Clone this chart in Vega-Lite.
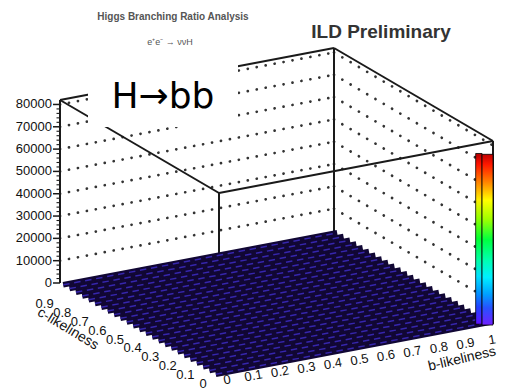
{
  "$schema": "https://vega.github.io/schema/vega-lite/v6.json",
  "width": 507,
  "height": 391,
  "padding": 0,
  "autosize": {"type": "none"},
  "background": "white",
  "config": {"view": {"stroke": null}, "text": {"font": "Liberation Sans"}},
  "datasets": {
    "zt": [{"z":0},{"z":10000},{"z":20000},{"z":30000},{"z":40000},{"z":50000},{"z":60000},{"z":70000},{"z":80000}],
    "zminor": [{"z":2000},{"z":4000},{"z":6000},{"z":8000},{"z":12000},{"z":14000},{"z":16000},{"z":18000},{"z":22000},{"z":24000},{"z":26000},{"z":28000},{"z":32000},{"z":34000},{"z":36000},{"z":38000},{"z":42000},{"z":44000},{"z":46000},{"z":48000},{"z":52000},{"z":54000},{"z":56000},{"z":58000},{"z":62000},{"z":64000},{"z":66000},{"z":68000},{"z":72000},{"z":74000},{"z":76000},{"z":78000}],
    "frame": [
      {"b1":0,"c1":1,"z1":0,"b2":0,"c2":1,"z2":82000},
      {"b1":0,"c1":1,"z1":82000,"b2":1,"c2":1,"z2":82000},
      {"b1":1,"c1":1,"z1":82000,"b2":1,"c2":0,"z2":82000},
      {"b1":0,"c1":1,"z1":82000,"b2":0,"c2":0,"z2":82000},
      {"b1":0,"c1":0,"z1":82000,"b2":1,"c2":0,"z2":82000},
      {"b1":1,"c1":1,"z1":0,"b2":1,"c2":1,"z2":82000},
      {"b1":0,"c1":0,"z1":0,"b2":0,"c2":0,"z2":82000},
      {"b1":1,"c1":0,"z1":0,"b2":1,"c2":0,"z2":82000}
    ],
    "floor": [{"c_lo":0,"n":0},{"c_lo":0.04,"n":0},{"c_lo":0.08,"n":0},{"c_lo":0.12,"n":0},{"c_lo":0.16,"n":0},{"c_lo":0.2,"n":0},{"c_lo":0.24,"n":0},{"c_lo":0.28,"n":0},{"c_lo":0.32,"n":0},{"c_lo":0.36,"n":0},{"c_lo":0.4,"n":0},{"c_lo":0.44,"n":0},{"c_lo":0.48,"n":0},{"c_lo":0.52,"n":0},{"c_lo":0.56,"n":0},{"c_lo":0.6,"n":0},{"c_lo":0.64,"n":0},{"c_lo":0.68,"n":0},{"c_lo":0.72,"n":0},{"c_lo":0.76,"n":0},{"c_lo":0.8,"n":0},{"c_lo":0.84,"n":0},{"c_lo":0.88,"n":0},{"c_lo":0.92,"n":0},{"c_lo":0.96,"n":0}],
    "peak": [{"b_lo":0.96,"c_lo":0,"w":0.04,"n":76500}],
    "bt": [{"b":0},{"b":0.1},{"b":0.2},{"b":0.3},{"b":0.4},{"b":0.5},{"b":0.6},{"b":0.7},{"b":0.8},{"b":0.9},{"b":1}],
    "ct": [{"c":0},{"c":0.1},{"c":0.2},{"c":0.3},{"c":0.4},{"c":0.5},{"c":0.6},{"c":0.7},{"c":0.8},{"c":0.9}]
  },
  "layer": [
    {
      "data": {"name": "zt"},
      "transform": [
        {"filter": "datum.z > 0"},
        {"calculate": "219+274*0-159*1", "as": "px"},
        {"calculate": "376-52*0-93*1-183*datum.z/82000", "as": "py"},
        {"calculate": "219+274*1-159*1", "as": "px2"},
        {"calculate": "376-52*1-93*1-183*datum.z/82000", "as": "py2"}
      ],
      "mark": {"type": "rule", "color": "#333", "strokeWidth": 2.7, "strokeDash": [0.1, 9], "strokeCap": "round"},
      "encoding": {
        "x": {"field": "px", "type": "quantitative", "scale": {"domain": [0, 507], "nice": false, "zero": false}, "axis": null},
        "y": {"field": "py", "type": "quantitative", "scale": {"domain": [0, 391], "nice": false, "zero": false, "reverse": true}, "axis": null},
        "x2": {"field": "px2"},
        "y2": {"field": "py2"}
      }
    },
    {
      "data": {"name": "zt"},
      "transform": [
        {"filter": "datum.z > 0"},
        {"calculate": "219+274*1-159*1", "as": "px"},
        {"calculate": "376-52*1-93*1-183*datum.z/82000", "as": "py"},
        {"calculate": "219+274*1-159*0", "as": "px2"},
        {"calculate": "376-52*1-93*0-183*datum.z/82000", "as": "py2"}
      ],
      "mark": {"type": "rule", "color": "#333", "strokeWidth": 2.7, "strokeDash": [0.1, 9.5], "strokeCap": "round"},
      "encoding": {
        "x": {"field": "px", "type": "quantitative", "scale": {"domain": [0, 507], "nice": false, "zero": false}, "axis": null},
        "y": {"field": "py", "type": "quantitative", "scale": {"domain": [0, 391], "nice": false, "zero": false, "reverse": true}, "axis": null},
        "x2": {"field": "px2"},
        "y2": {"field": "py2"}
      }
    },
    {
      "data": {"name": "frame"},
      "transform": [
        {"calculate": "219+274*datum.b1-159*datum.c1", "as": "px"},
        {"calculate": "376-52*datum.b1-93*datum.c1-183*datum.z1/82000", "as": "py"},
        {"calculate": "219+274*datum.b2-159*datum.c2", "as": "px2"},
        {"calculate": "376-52*datum.b2-93*datum.c2-183*datum.z2/82000", "as": "py2"}
      ],
      "mark": {"type": "rule", "color": "#1a1a1a", "strokeWidth": 2},
      "encoding": {
        "x": {"field": "px", "type": "quantitative", "scale": {"domain": [0, 507], "nice": false, "zero": false}, "axis": null},
        "y": {"field": "py", "type": "quantitative", "scale": {"domain": [0, 391], "nice": false, "zero": false, "reverse": true}, "axis": null},
        "x2": {"field": "px2"},
        "y2": {"field": "py2"}
      }
    },
    {
      "data": {"name": "zt"},
      "transform": [
        {"calculate": "60-7", "as": "px"},
        {"calculate": "60", "as": "px2"},
        {"calculate": "283-183*datum.z/82000", "as": "py"}
      ],
      "mark": {"type": "rule", "color": "#1a1a1a", "strokeWidth": 1.5},
      "encoding": {
        "x": {"field": "px", "type": "quantitative", "scale": {"domain": [0, 507], "nice": false, "zero": false}, "axis": null},
        "y": {"field": "py", "type": "quantitative", "scale": {"domain": [0, 391], "nice": false, "zero": false, "reverse": true}, "axis": null},
        "x2": {"field": "px2"}
      }
    },
    {
      "data": {"name": "zminor"},
      "transform": [
        {"calculate": "60-3.5", "as": "px"},
        {"calculate": "60", "as": "px2"},
        {"calculate": "283-183*datum.z/82000", "as": "py"}
      ],
      "mark": {"type": "rule", "color": "#1a1a1a", "strokeWidth": 1.1},
      "encoding": {
        "x": {"field": "px", "type": "quantitative", "scale": {"domain": [0, 507], "nice": false, "zero": false}, "axis": null},
        "y": {"field": "py", "type": "quantitative", "scale": {"domain": [0, 391], "nice": false, "zero": false, "reverse": true}, "axis": null},
        "x2": {"field": "px2"}
      }
    },
    {
      "data": {"name": "zt"},
      "transform": [
        {"calculate": "60-8", "as": "px"},
        {"calculate": "283-183*datum.z/82000", "as": "py"}
      ],
      "mark": {"type": "text", "align": "right", "baseline": "middle", "fontSize": 13, "color": "#111"},
      "encoding": {
        "x": {"field": "px", "type": "quantitative", "scale": {"domain": [0, 507], "nice": false, "zero": false}, "axis": null},
        "y": {"field": "py", "type": "quantitative", "scale": {"domain": [0, 391], "nice": false, "zero": false, "reverse": true}, "axis": null},
        "text": {"field": "z", "type": "quantitative", "format": "d"}
      }
    },
    {
      "data": {"name": "floor"},
      "transform": [
        {"calculate": "datum.c_lo+0.02", "as": "cm"},
        {"calculate": "219+274*0-159*datum.cm", "as": "px"},
        {"calculate": "376-52*0-93*datum.cm-183*datum.n/82000", "as": "py"},
        {"calculate": "219+274*1-159*datum.cm", "as": "px2"},
        {"calculate": "376-52*1-93*datum.cm-183*datum.n/82000", "as": "py2"}
      ],
      "mark": {"type": "rule", "color": "#110734", "strokeWidth": 5.6, "strokeCap": "butt"},
      "encoding": {
        "x": {"field": "px", "type": "quantitative", "scale": {"domain": [0, 507], "nice": false, "zero": false}, "axis": null},
        "y": {"field": "py", "type": "quantitative", "scale": {"domain": [0, 391], "nice": false, "zero": false, "reverse": true}, "axis": null},
        "x2": {"field": "px2"},
        "y2": {"field": "py2"}
      }
    },
    {
      "data": {"name": "floor"},
      "transform": [
        {"calculate": "datum.c_lo+0.02", "as": "cm"},
        {"calculate": "219+274*0-159*datum.cm", "as": "px"},
        {"calculate": "376-52*0-93*datum.cm-183*datum.n/82000", "as": "py"},
        {"calculate": "219+274*1-159*datum.cm", "as": "px2"},
        {"calculate": "376-52*1-93*datum.cm-183*datum.n/82000", "as": "py2"}
      ],
      "mark": {"type": "rule", "color": "#3626ac", "strokeWidth": 1.5, "strokeDash": [6.5, 4.66], "strokeCap": "butt"},
      "encoding": {
        "x": {"field": "px", "type": "quantitative", "scale": {"domain": [0, 507], "nice": false, "zero": false}, "axis": null},
        "y": {"field": "py", "type": "quantitative", "scale": {"domain": [0, 391], "nice": false, "zero": false, "reverse": true}, "axis": null},
        "x2": {"field": "px2"},
        "y2": {"field": "py2"}
      }
    },
    {
      "data": {"name": "peak"},
      "transform": [
        {"calculate": "219+274*datum.b_lo-159*(datum.c_lo+datum.w)", "as": "px"},
        {"calculate": "219+274*datum.b_lo-159*datum.c_lo", "as": "px2"},
        {"calculate": "376-52*datum.b_lo-93*(datum.c_lo+datum.w/2)-183*datum.n/82000", "as": "py"},
        {"calculate": "376-52*datum.b_lo-93*(datum.c_lo+datum.w/2)", "as": "py2"}
      ],
      "mark": {"type": "rect", "stroke": "#000", "strokeWidth": 0.8,
        "fill": {"gradient": "linear", "x1": 0, "y1": 0, "x2": 0, "y2": 1, "stops": [
          {"offset": 0, "color": "#b00000"}, {"offset": 0.06, "color": "#ff1000"}, {"offset": 0.16, "color": "#ff7a00"},
          {"offset": 0.27, "color": "#ffee00"}, {"offset": 0.38, "color": "#90ff00"}, {"offset": 0.5, "color": "#00ff30"},
          {"offset": 0.62, "color": "#00ffa0"}, {"offset": 0.72, "color": "#00e0ff"}, {"offset": 0.82, "color": "#0090ff"},
          {"offset": 0.9, "color": "#2040ff"}, {"offset": 1, "color": "#6010ff"}]}},
      "encoding": {
        "x": {"field": "px", "type": "quantitative", "scale": {"domain": [0, 507], "nice": false, "zero": false}, "axis": null},
        "y": {"field": "py", "type": "quantitative", "scale": {"domain": [0, 391], "nice": false, "zero": false, "reverse": true}, "axis": null},
        "x2": {"field": "px2"},
        "y2": {"field": "py2"}
      }
    },
    {
      "data": {"name": "peak"},
      "transform": [
        {"calculate": "219+274*datum.b_lo-159*datum.c_lo", "as": "px"},
        {"calculate": "219+274*(datum.b_lo+datum.w)-159*datum.c_lo", "as": "px2"},
        {"calculate": "376-52*(datum.b_lo+datum.w/2)-93*datum.c_lo-183*datum.n/82000", "as": "py"},
        {"calculate": "376-52*(datum.b_lo+datum.w/2)-93*datum.c_lo", "as": "py2"}
      ],
      "mark": {"type": "rect", "stroke": "#000", "strokeWidth": 0.8,
        "fill": {"gradient": "linear", "x1": 0, "y1": 0, "x2": 0, "y2": 1, "stops": [
          {"offset": 0, "color": "#c00000"}, {"offset": 0.06, "color": "#ff1800"}, {"offset": 0.16, "color": "#ff8000"},
          {"offset": 0.27, "color": "#ffff00"}, {"offset": 0.38, "color": "#a0ff00"}, {"offset": 0.5, "color": "#00ff40"},
          {"offset": 0.62, "color": "#00ffb0"}, {"offset": 0.72, "color": "#00f0ff"}, {"offset": 0.82, "color": "#00a0ff"},
          {"offset": 0.9, "color": "#2850ff"}, {"offset": 1, "color": "#7020ff"}]}},
      "encoding": {
        "x": {"field": "px", "type": "quantitative", "scale": {"domain": [0, 507], "nice": false, "zero": false}, "axis": null},
        "y": {"field": "py", "type": "quantitative", "scale": {"domain": [0, 391], "nice": false, "zero": false, "reverse": true}, "axis": null},
        "x2": {"field": "px2"},
        "y2": {"field": "py2"}
      }
    },
    {
      "data": {"name": "bt"},
      "transform": [
        {"calculate": "227+265*datum.b", "as": "px"},
        {"calculate": "380-40*datum.b", "as": "py"}
      ],
      "mark": {"type": "text", "align": "center", "baseline": "middle", "fontSize": 13, "angle": -10, "color": "#111"},
      "encoding": {
        "x": {"field": "px", "type": "quantitative", "scale": {"domain": [0, 507], "nice": false, "zero": false}, "axis": null},
        "y": {"field": "py", "type": "quantitative", "scale": {"domain": [0, 391], "nice": false, "zero": false, "reverse": true}, "axis": null},
        "text": {"field": "b", "type": "quantitative", "format": "~g"}
      }
    },
    {
      "data": {"name": "ct"},
      "transform": [
        {"calculate": "203-176*datum.c", "as": "px"},
        {"calculate": "384-89*datum.c", "as": "py"}
      ],
      "mark": {"type": "text", "align": "center", "baseline": "middle", "fontSize": 13, "color": "#111"},
      "encoding": {
        "x": {"field": "px", "type": "quantitative", "scale": {"domain": [0, 507], "nice": false, "zero": false}, "axis": null},
        "y": {"field": "py", "type": "quantitative", "scale": {"domain": [0, 391], "nice": false, "zero": false, "reverse": true}, "axis": null},
        "text": {"field": "c", "type": "quantitative", "format": "~g"}
      }
    },
    {
      "data": {"values": [{}]},
      "mark": {"type": "text", "text": "c-likeliness", "angle": 31, "fontSize": 14, "color": "#111", "align": "center", "baseline": "middle"},
      "encoding": {
        "x": {"datum": 68, "type": "quantitative", "scale": {"domain": [0, 507], "nice": false, "zero": false}, "axis": null},
        "y": {"datum": 329, "type": "quantitative", "scale": {"domain": [0, 391], "nice": false, "zero": false, "reverse": true}, "axis": null}
      }
    },
    {
      "data": {"values": [{}]},
      "mark": {"type": "text", "text": "b-likeliness", "angle": -13, "fontSize": 14, "color": "#111", "align": "center", "baseline": "middle"},
      "encoding": {
        "x": {"datum": 462, "type": "quantitative", "scale": {"domain": [0, 507], "nice": false, "zero": false}, "axis": null},
        "y": {"datum": 359, "type": "quantitative", "scale": {"domain": [0, 391], "nice": false, "zero": false, "reverse": true}, "axis": null}
      }
    },
    {
      "data": {"values": [{}]},
      "mark": {"type": "text", "text": "Higgs Branching Ratio Analysis", "fontSize": 10, "fontWeight": "bold", "color": "#555", "align": "center", "baseline": "alphabetic"},
      "encoding": {
        "x": {"datum": 173, "type": "quantitative", "scale": {"domain": [0, 507], "nice": false, "zero": false}, "axis": null},
        "y": {"datum": 20, "type": "quantitative", "scale": {"domain": [0, 391], "nice": false, "zero": false, "reverse": true}, "axis": null}
      }
    },
    {
      "data": {"values": [{}]},
      "mark": {"type": "text", "text": "e⁺e⁻ → ννH", "fontSize": 9, "color": "#555", "align": "center", "baseline": "alphabetic"},
      "encoding": {
        "x": {"datum": 170, "type": "quantitative", "scale": {"domain": [0, 507], "nice": false, "zero": false}, "axis": null},
        "y": {"datum": 45, "type": "quantitative", "scale": {"domain": [0, 391], "nice": false, "zero": false, "reverse": true}, "axis": null}
      }
    },
    {
      "data": {"values": [{}]},
      "mark": {"type": "text", "text": "ILD Preliminary", "fontSize": 19, "fontWeight": "bold", "color": "#333", "align": "center", "baseline": "alphabetic"},
      "encoding": {
        "x": {"datum": 381, "type": "quantitative", "scale": {"domain": [0, 507], "nice": false, "zero": false}, "axis": null},
        "y": {"datum": 38, "type": "quantitative", "scale": {"domain": [0, 391], "nice": false, "zero": false, "reverse": true}, "axis": null}
      }
    },
    {
      "data": {"values": [{}]},
      "mark": {"type": "rect", "fill": "white"},
      "encoding": {
        "x": {"datum": 88, "type": "quantitative", "scale": {"domain": [0, 507], "nice": false, "zero": false}, "axis": null},
        "x2": {"datum": 238},
        "y": {"datum": 63, "type": "quantitative", "scale": {"domain": [0, 391], "nice": false, "zero": false, "reverse": true}, "axis": null},
        "y2": {"datum": 127}
      }
    },
    {
      "data": {"values": [{}]},
      "mark": {"type": "text", "text": "H→bb", "fontSize": 36, "font": "DejaVu Sans", "color": "#000", "align": "center", "baseline": "alphabetic"},
      "encoding": {
        "x": {"datum": 163, "type": "quantitative", "scale": {"domain": [0, 507], "nice": false, "zero": false}, "axis": null},
        "y": {"datum": 108, "type": "quantitative", "scale": {"domain": [0, 391], "nice": false, "zero": false, "reverse": true}, "axis": null}
      }
    }
  ]
}
